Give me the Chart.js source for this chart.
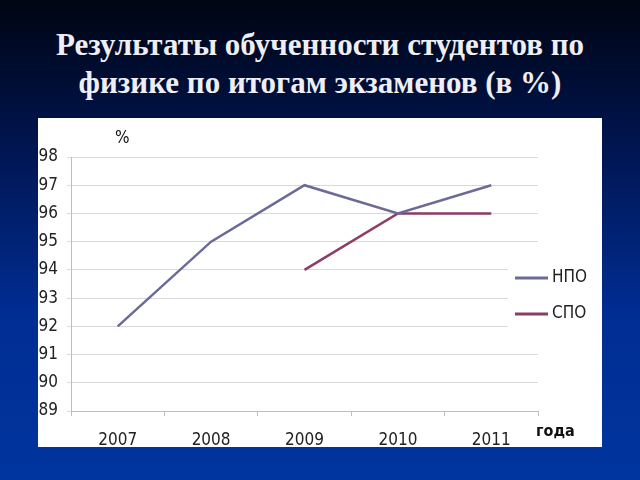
<!DOCTYPE html>
<html>
<head>
<meta charset="utf-8">
<script src="https://cdn.jsdelivr.net/npm/chart.js@4.4.0/dist/chart.umd.min.js"></script>
<style>
  html, body { margin: 0; padding: 0; }
  body {
    width: 640px; height: 480px; overflow: hidden; position: relative;
    background: linear-gradient(to bottom, #000512 0%, #001550 30%, #002d92 65%, #00359f 100%);
  }
  #title {
    position: absolute; left: 0; top: 26px; width: 640px;
    text-align: center; color: #eeeef4;
    font-family: "Liberation Serif", "DejaVu Serif", serif; font-weight: bold;
    font-size: 31px; line-height: 38px;
  }
  #box {
    position: absolute; left: 38px; top: 118px; width: 564px; height: 329px;
    background: #fff;
  }
</style>
</head>
<body>
<div id="title">Результаты обученности студентов по<br>физике по итогам экзаменов (в %)</div>
<div id="box"><canvas id="myChart" width="564" height="329"></canvas></div>
<script>
const YEARS = ['2007', '2008', '2009', '2010', '2011'];
const NPO = [92, 95, 97, 96, 97];
const SPO = [null, null, 94, 96, 96];
const SERIES_NAMES = ['НПО', 'СПО'];
const Y_MIN = 89;
const Y_MAX = 98;

const FONT = '"Liberation Sans Narrow", "DejaVu Sans Condensed", sans-serif';
const ctx = document.getElementById('myChart');

// legend sits over the right part of the plot, on a white patch
const sideLabels = {
    id: 'sideLabels',
    afterDraw(chart) {
        const c = chart.ctx;
        c.save();
        c.fillStyle = '#fff';
        c.fillRect(470, 133, 94, 92);
        c.font = '17px ' + FONT;
        c.fillStyle = '#222';
        c.textBaseline = 'middle';
        chart.data.datasets.forEach((ds, i) => {
            const y = 160 + i * 36;
            c.strokeStyle = ds.borderColor;
            c.lineWidth = 3;
            c.beginPath();
            c.moveTo(477, y);
            c.lineTo(510, y);
            c.stroke();
            c.fillText(ds.label, 514, y);
        });
        c.fillStyle = '#111';
        c.font = '17px ' + FONT;
        c.fillText('%', 77, 21);
        c.font = 'bold 16px ' + FONT;
        c.fillText('года', 498, 314);
        c.restore();
    }
};

new Chart(ctx, {
    type: 'line',
    data: {
        labels: YEARS,
        datasets: [
            { label: SERIES_NAMES[0], data: NPO, borderColor: '#6b6a98', borderWidth: 2.5, pointRadius: 0, tension: 0 },
            { label: SERIES_NAMES[1], data: SPO, borderColor: '#8e3b66', borderWidth: 2.5, pointRadius: 0, tension: 0 }
        ]
    },
    options: {
        responsive: false,
        animation: false,
        layout: { padding: { top: 39, right: 64, left: 0, bottom: 0 } },
        plugins: { legend: { display: false }, tooltip: { enabled: false } },
        scales: {
            x: {
                offset: true,
                grid: { offset: true, drawOnChartArea: false, tickLength: 5, color: '#bfbfbf' },
                border: { color: '#bfbfbf' },
                ticks: { color: '#222', font: { family: FONT, size: 17 }, padding: 14 },
                afterFit(scale) { scale.height = 36; }
            },
            y: {
                min: Y_MIN,
                max: Y_MAX,
                ticks: { stepSize: 1, color: '#222', font: { family: FONT, size: 17 }, padding: 9 },
                grid: { color: '#d9d9d9', tickLength: 4 },
                border: { color: '#bfbfbf' },
                afterFit(scale) { scale.width = 33; }
            }
        }
    },
    plugins: [sideLabels]
});
</script>
</body>
</html>
